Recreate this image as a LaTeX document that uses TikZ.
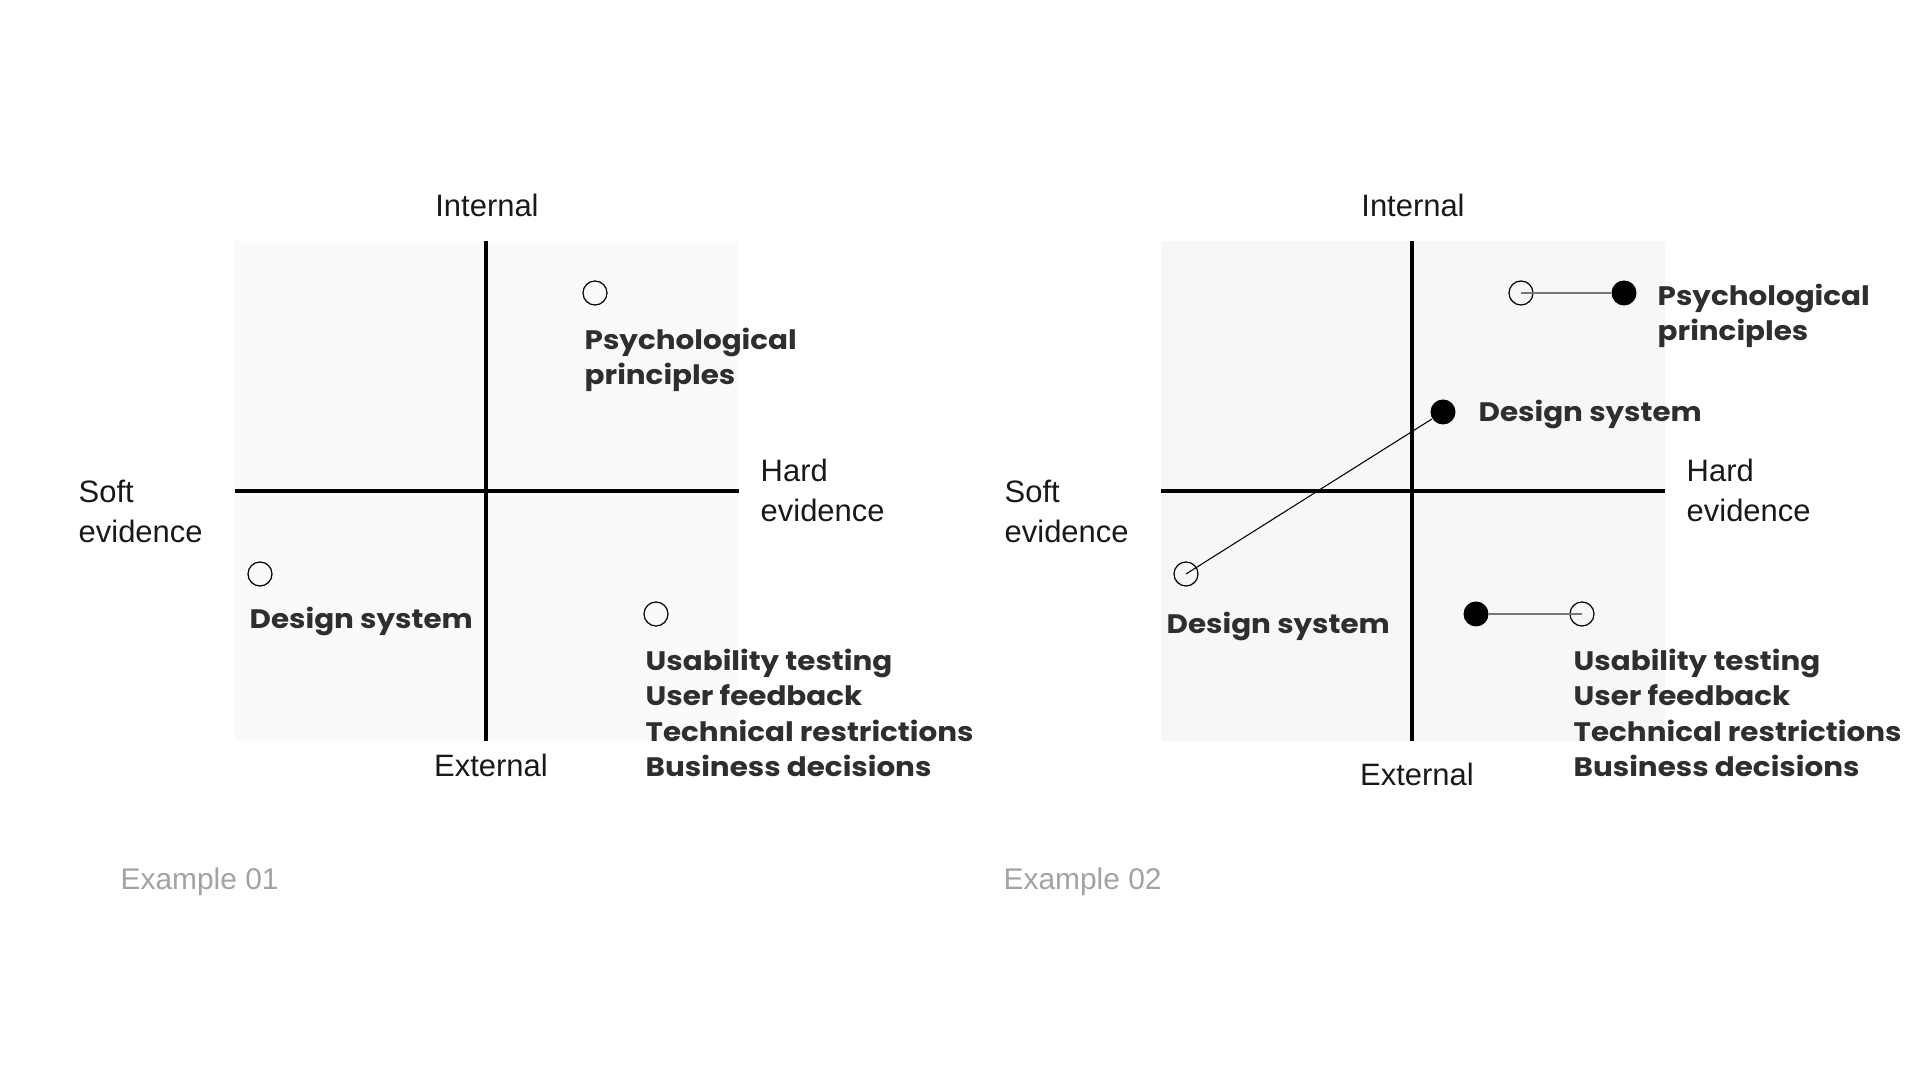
\documentclass[tikz,border=0pt]{standalone}
\usepackage{fontspec}
\setmainfont{Liberation Sans}
\newfontfamily\labelfont[FakeStretch=1.1]{Poppins}
\usetikzlibrary{positioning}
\definecolor{gridfill}{HTML}{FAFAFA}
\definecolor{gridfilltwo}{HTML}{F7F7F7}
\definecolor{labelgray}{HTML}{2E2E2E}
\definecolor{captiongray}{HTML}{A3A3A3}
\definecolor{linkgray}{HTML}{777777}
\tikzset{
	axis/.style={line width=1.15pt, black},
	plain/.style={inner sep=0pt, align=left, text=black!90,
		font=\fontsize{8.8}{11.4}\selectfont},
	tag/.style={inner sep=0pt, align=left, text=labelgray,
		font=\labelfont\bfseries\fontsize{7.6}{10.1}\selectfont},
	caption/.style={inner sep=0pt, text=captiongray,
		font=\fontsize{8.5}{11}\selectfont},
	hollow/.style={circle, draw, line width=0.35pt, fill=none,
		minimum size=0.24cm, inner sep=0pt},
	solid dot/.style={circle, fill=black, minimum size=0.25cm, inner sep=0pt},
	shift link/.style={line width=0.45pt, linkgray},
	thin link/.style={line width=0.3pt, black},
}
\newcommand{\evidencegrid}[4]{% \evidencegrid ==== V
		% #1 left edge, #2 fill, #3 name prefix, #4 baseline of External
		\fill[#2] (#1,241) rectangle ++(504,500); % square
		\draw[axis] (#1,491) -- ++(504,0); % soft -- hard
		\draw[axis] (#1+251,241) -- ++(0,500); % internal -- external
		\node[plain, anchor=base] (#3int) at (#1+252,217) {Internal};
		% multi-line nodes sit on their last line
		\node[plain, anchor=base west] (#3soft) at (#1-157,543) {Soft\\evidence};
		\node[plain, anchor=base west] (#3hard) at (#1+525,522) {Hard\\evidence};
		\node[plain, anchor=base] (#3ext) at (#1+256,#4) {External};
	}
\begin{document}
\begin{tikzpicture}[x=0.01cm, y=-0.01cm]
		\fill[white] (0,0) rectangle (1920,1080);
		\useasboundingbox (0,0) rectangle (1920,1080);

		% example 01 ==== V
		\evidencegrid{235}{gridfill}{a}{777}

		\node[hollow] (apsych) at (595,293) {};
		\node[tag, anchor=base west] (apsychtxt) at (584,385) {Psychological\\principles};

		\node[hollow] (adesign) at (260,574) {};
		\node[tag, anchor=base west] (adesigntxt) at (249,629) {Design system};

		\node[hollow] (ausab) at (656,614) {};
		\node[tag, anchor=base west] (ausabtxt) at (645,777)
			{Usability testing\\User feedback\\Technical restrictions\\Business decisions};

		\node[caption, anchor=base west] (aname) at (120,890) {Example 01};
		% ==== A

		% example 02 ==== V
		\evidencegrid{1161}{gridfilltwo}{b}{786}

		% psychological principles move right
		\node[hollow] (bpsychold) at (1521,293) {};
		\node[solid dot] (bpsych) at (1624,293) {};
		\draw[shift link] (bpsychold.center) -- (bpsych);
		\node[tag, anchor=base west] (bpsychtxt) at (1657,341) {Psychological\\principles};

		% design system moves up and right
		\node[hollow] (bdesignold) at (1186,574) {};
		\node[solid dot] (bdesign) at (1443,412) {};
		\draw[thin link] (bdesignold.center) -- (bdesign);
		\node[tag, anchor=base west] (bdesignoldtxt) at (1166,634) {Design system};
		\node[tag, anchor=base west] (bdesigntxt) at (1478,422) {Design system};

		% usability testing etc. move left
		\node[hollow] (busabold) at (1582,614) {};
		\node[solid dot] (busab) at (1476,614) {};
		\draw[shift link] (busabold.center) -- (busab);
		\node[tag, anchor=base west] (busabtxt) at (1573,777)
			{Usability testing\\User feedback\\Technical restrictions\\Business decisions};

		\node[caption, anchor=base west] (bname) at (1003,890) {Example 02};
		% ==== A
\end{tikzpicture}
\end{document}
